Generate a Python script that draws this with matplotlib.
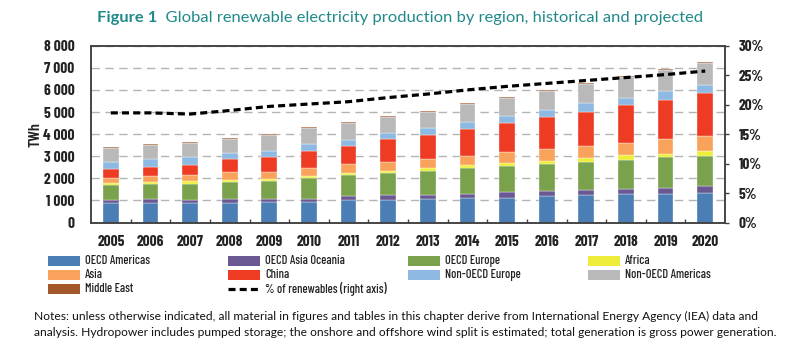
import numpy as np
import matplotlib
matplotlib.use("Agg")
import matplotlib.pyplot as plt
from matplotlib import font_manager
from matplotlib.patches import Rectangle
from matplotlib.lines import Line2D
from matplotlib.ticker import FuncFormatter, FixedLocator

# ---------------- data (TWh) ----------------
years = [str(y) for y in range(2005, 2021)]
oecd_americas = [860, 880, 860, 895, 910, 925, 1015, 1030, 1060, 1090, 1120, 1180, 1225, 1270, 1300, 1330]
oecd_asia_oceania = [150, 165, 150, 150, 165, 150, 180, 210, 180, 210, 240, 250, 240, 250, 270, 315]
oecd_europe = [665, 690, 740, 795, 810, 930, 960, 990, 1095, 1170, 1185, 1235, 1275, 1310, 1380, 1380]
africa = [105, 105, 120, 105, 90, 105, 105, 120, 120, 135, 165, 135, 195, 210, 165, 225]
asia = [240, 270, 270, 330, 330, 360, 375, 390, 435, 420, 480, 525, 540, 570, 645, 680]
china = [390, 420, 480, 600, 645, 765, 810, 1020, 1085, 1220, 1290, 1440, 1545, 1685, 1805, 1920]
non_oecd_europe = [330, 360, 330, 285, 300, 315, 285, 285, 315, 325, 350, 335, 380, 360, 375, 375]
non_oecd_americas = [630, 625, 640, 640, 710, 725, 770, 725, 720, 800, 810, 850, 850, 925, 970, 1000]
middle_east = [30, 35, 35, 40, 40, 40, 40, 40, 45, 45, 45, 50, 50, 50, 50, 50]
# share of renewables (right axis, %)
renew_share = [18.6, 18.6, 18.4, 19.0, 19.7, 20.1, 20.5, 21.2, 21.8, 22.5, 23.1, 23.6, 24.1, 24.6, 25.1, 25.7]

series = [
    ("OECD Americas", oecd_americas, "#4a7eb4"),
    ("OECD Asia Oceania", oecd_asia_oceania, "#6a5893"),
    ("OECD Europe", oecd_europe, "#7aa14c"),
    ("Africa", africa, "#eeee3a"),
    ("Asia", asia, "#f9a25c"),
    ("China", china, "#ee3b24"),
    ("Non-OECD Europe", non_oecd_europe, "#8db9e3"),
    ("Non-OECD Americas", non_oecd_americas, "#b9b9b9"),
    ("Middle East", middle_east, "#a3582b"),
]

# ---------------- fonts ----------------
names = {f.name for f in font_manager.fontManager.ttflist}
NARROW = "DejaVu Sans"
for cand in ["Barlow Condensed", "Archivo Narrow", "Asap Condensed"]:
    if cand in names:
        NARROW = cand
        break
BODY = "Lato" if "Lato" in names else "DejaVu Sans"

W, H = 800, 352
fig = plt.figure(figsize=(W / 100, H / 100), dpi=100)
fig.patch.set_facecolor("white")

def fx(x):
    return x / W

def fy(y):
    return 1 - y / H

ax_l, ax_r, ax_t, ax_b = 91, 725, 45.7, 222.5
ax = fig.add_axes([fx(ax_l), fy(ax_b), (ax_r - ax_l) / W, (ax_b - ax_t) / H])

x = np.arange(len(years))
bottom = np.zeros(len(years))
for name, vals, col in series:
    v = np.array(vals, dtype=float)
    ax.bar(x, v, width=0.4, bottom=bottom, color=col, edgecolor="white", linewidth=0.25, zorder=2)
    bottom += v

ax.set_xlim(-0.5, len(years) - 0.5)
ax.set_ylim(0, 8000)
ax.set_yticks(np.arange(0, 8001, 1000))
ax.yaxis.set_major_formatter(FuncFormatter(lambda v, p: f"{int(v):,}".replace(",", " ")))
ax.set_xticks(x)
ax.set_xticklabels(years)
ax.xaxis.set_minor_locator(FixedLocator(x[:-1] + 0.5))
ax.tick_params(axis="x", which="major", length=0, pad=9)
ax.tick_params(axis="x", which="minor", direction="in", length=3, width=1.0, color="#404040")
ax.tick_params(axis="y", length=0, pad=12)
for lab in ax.get_xticklabels() + ax.get_yticklabels():
    lab.set_fontfamily(NARROW)
    lab.set_fontweight("bold")
    lab.set_fontsize(11)
    lab.set_color("#222222")

ax.grid(axis="y", color="#b4b4b4", linestyle=(0, (6, 4)), linewidth=1.0)
ax.set_axisbelow(True)
for s in ax.spines.values():
    s.set_color("#404040")
    s.set_linewidth(1.1)

ax.set_ylabel("TWh", fontfamily=NARROW, fontweight="semibold", fontsize=11.5, color="#222222")
ax.yaxis.set_label_coords((42 - ax_l) / (ax_r - ax_l), 0.5)

ax2 = ax.twinx()
ax2.set_ylim(0, 30)
ax2.set_yticks(np.arange(0, 31, 5))
ax2.yaxis.set_major_formatter(FuncFormatter(lambda v, p: f"{int(v)}%"))
ax2.tick_params(axis="y", direction="out", length=3, width=1.0, color="#404040", pad=7)
for lab in ax2.get_yticklabels():
    lab.set_fontfamily(NARROW)
    lab.set_fontweight("bold")
    lab.set_fontsize(11)
    lab.set_color("#222222")
ax2.plot(x, renew_share, color="black", linestyle=(0, (2.2, 1.3)), linewidth=2.3, zorder=5)
for s in ax2.spines.values():
    s.set_color("#404040")
    s.set_linewidth(1.1)

renderer = fig.canvas.get_renderer()

def fit(t, target):
    w = t.get_window_extent(renderer).width
    t.set_fontsize(t.get_fontsize() * target / w)

# ---------------- title ----------------
teal = "#20898a"
t1 = fig.text(fx(97), fy(18), "Figure 1", fontfamily=BODY, fontweight="bold",
              fontsize=11, color=teal, ha="left", va="center")
t2 = fig.text(fx(97), fy(18), "  Global renewable electricity production by region, historical and projected",
              fontfamily=BODY, fontsize=11, color=teal, ha="left", va="center")
w1 = t1.get_window_extent(renderer).width
w2 = t2.get_window_extent(renderer).width
scale = (698 - 97) / (w1 + w2)
t1.set_fontsize(11 * scale)
t2.set_fontsize(11 * scale)
w1 = t1.get_window_extent(renderer).width
t2.set_position((fx(97 + w1), fy(18)))

# ---------------- legend ----------------
col_x = [48, 228, 408, 588]
row_y = [261, 275, 289]
layout = [
    (0, 0, 0), (0, 1, 1), (0, 2, 2), (0, 3, 3),
    (1, 0, 4), (1, 1, 5), (1, 2, 6), (1, 3, 7),
    (2, 0, 8),
]
leg_fs = 10
for r, c, i in layout:
    name, _, col = series[i]
    px, py = col_x[c], row_y[r]
    fig.patches.append(Rectangle((fx(px), fy(py + 5)), 32 / W, 10 / H, transform=fig.transFigure,
                                 facecolor=col, edgecolor="none"))
    t = fig.text(fx(px + 37), fy(py), name, fontfamily=NARROW, fontweight="medium", fontsize=leg_fs,
                 color="#222222", ha="left", va="center")
    if i == 0:
        fit(t, 65)
        leg_fs = t.get_fontsize()
fig.lines.append(Line2D([fx(228), fx(259)], [fy(289), fy(289)], transform=fig.transFigure,
                        color="black", linestyle=(0, (2.2, 1.3)), linewidth=2.3))
fig.text(fx(265), fy(289), "% of renewables (right axis)", fontfamily=NARROW, fontweight="medium",
         fontsize=leg_fs, color="#222222", ha="left", va="center")

# ---------------- notes ----------------
n1 = fig.text(fx(34), fy(316), "Notes: unless otherwise indicated, all material in figures and tables in this chapter derive from International Energy Agency (IEA) data and",
              fontfamily=BODY, fontsize=8, color="#111111", ha="left", va="center")
fit(n1, 760 - 34)
n2 = fig.text(fx(34), fy(332), "analysis. Hydropower includes pumped storage; the onshore and offshore wind split is estimated; total generation is gross power generation.",
              fontfamily=BODY, fontsize=n1.get_fontsize(), color="#111111", ha="left", va="center")

fig.savefig("out.png", dpi=100, facecolor="white")
